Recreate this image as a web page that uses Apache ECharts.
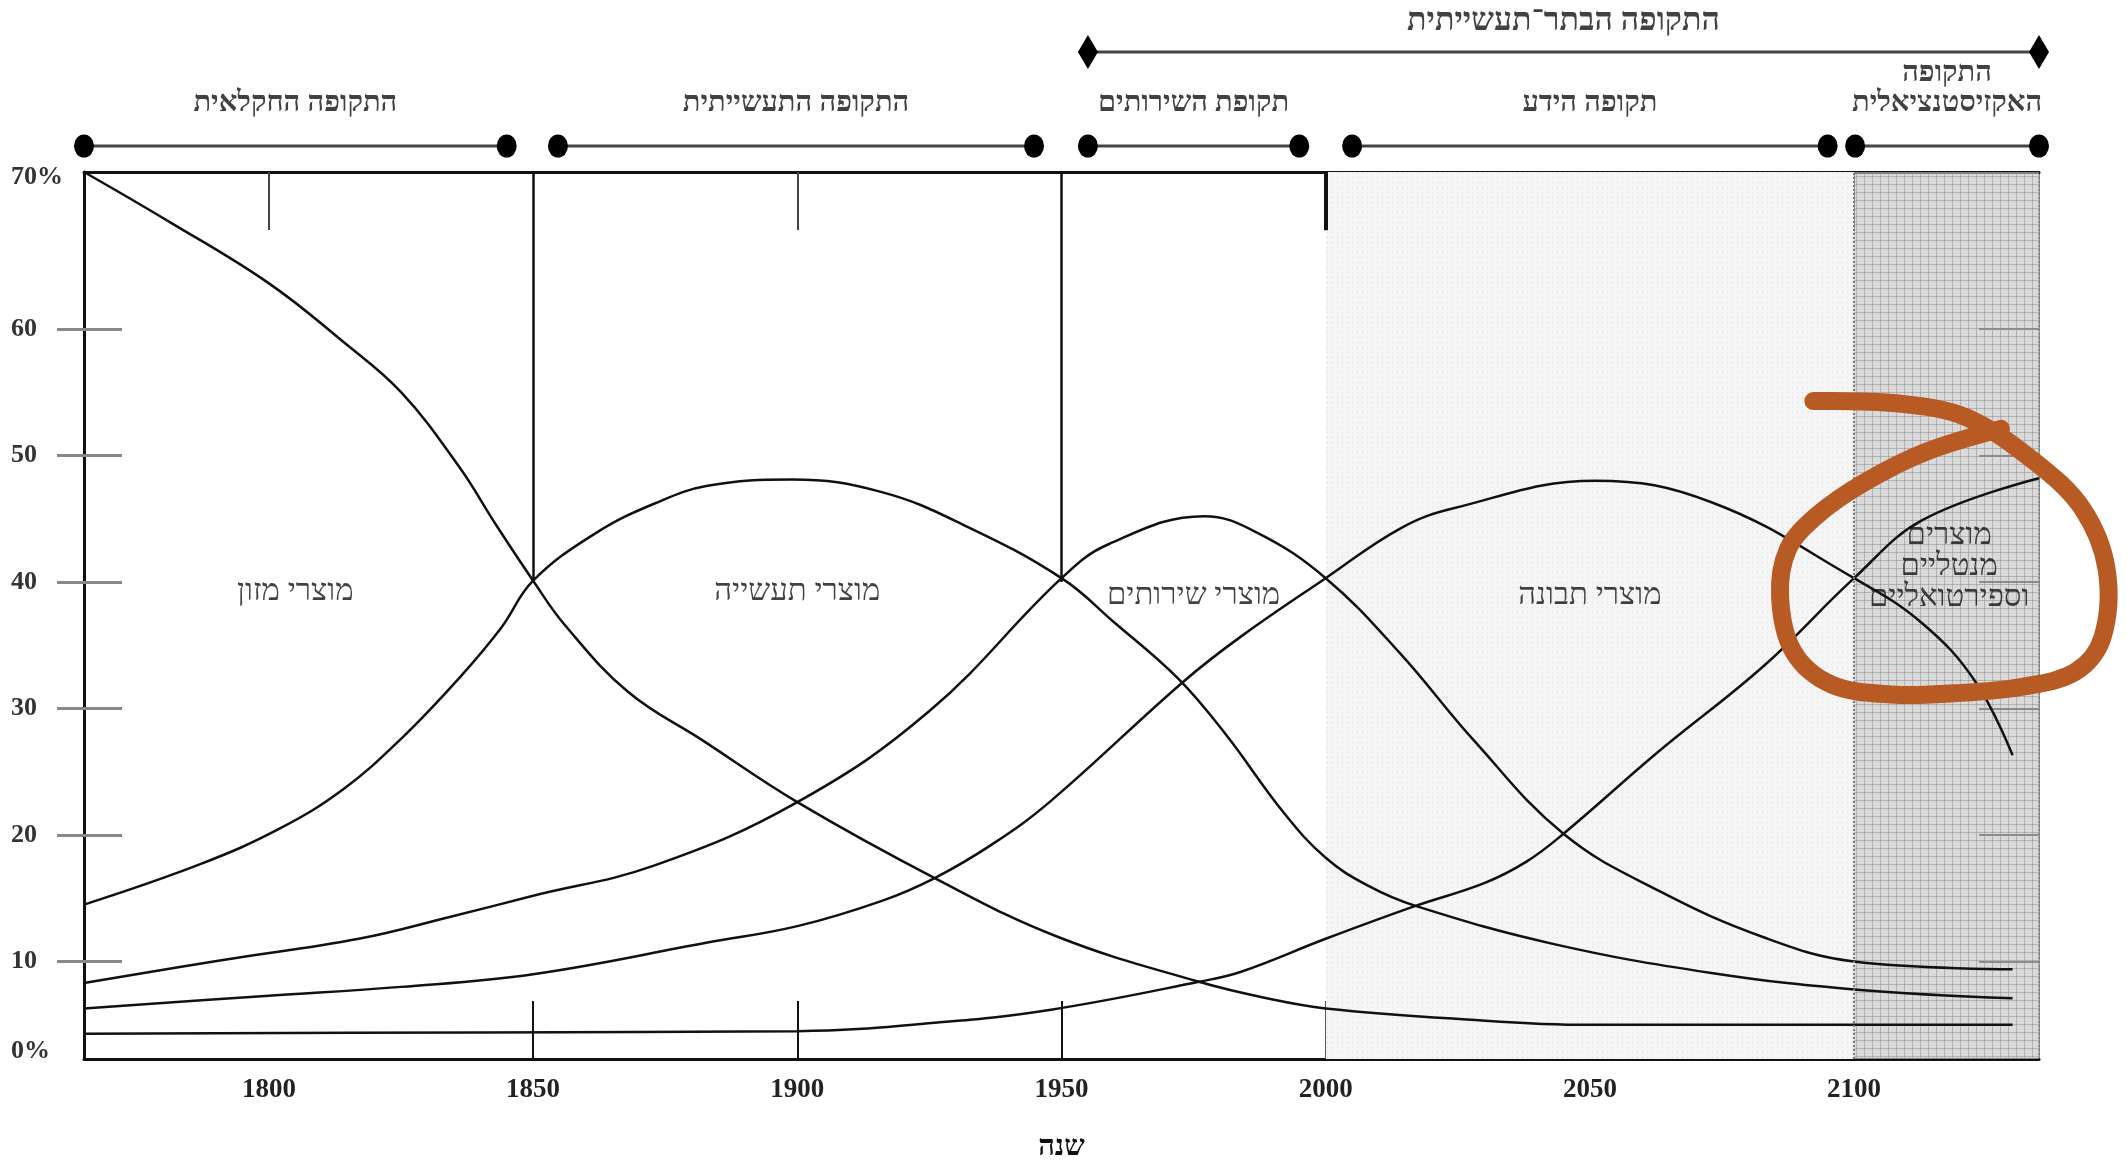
<!DOCTYPE html>
<html><head><meta charset="utf-8">
<script src="https://cdn.jsdelivr.net/npm/echarts@6/dist/echarts.min.js"></script>
<style>html,body{margin:0;padding:0;background:#fff}#c{width:2127px;height:1160px}</style>
</head><body><div id="c"></div>
<script>
// ---------- axes ----------
const X_MIN = 1765, X_MAX = 2135;
const Y_MIN = 2.3, Y_MAX = 72.4;
const xLabelYears = [1800, 1850, 1900, 1950, 2000, 2050, 2100];
const xBottomTickYears = [1850, 1900, 1950, 2000, 2050];
const xTopTickYears = [1800, 1900, 2000, 2100];
const yTickValues = [10, 20, 30, 40, 50, 60];
const yLabelValues = [Y_MIN, 10, 20, 30, 40, 50, 60, Y_MAX];
const yLabelTexts = ['0%', '10', '20', '30', '40', '50', '60', '70%'];
const xAxisTitle = 'שנה';

// ---------- product curves ----------
const productNames = ['מוצרי מזון', 'מוצרי תעשייה', 'מוצרי שירותים', 'מוצרי תבונה', 'מוצרים מנטליים וספירטואליים'];

const foodYears = [1765, 1781, 1800, 1814, 1825, 1836, 1843, 1850, 1856, 1868, 1882, 1900, 1926, 1949, 1976, 1990, 2000, 2024, 2050, 2100, 2130];
const foodValues = [72.4, 68.5, 63.6, 59.0, 55.0, 49.1, 44.5, 40.1, 36.6, 31.3, 27.5, 22.6, 16.6, 12.0, 8.4, 7.0, 6.3, 5.5, 5.0, 5.0, 5.0];

const industryYears = [1765, 1787, 1802, 1814, 1825, 1836, 1844, 1850, 1862, 1873, 1883, 1899, 1916, 1932, 1950, 1960, 1972, 1981, 1992, 2000, 2008, 2017, 2043, 2073, 2100, 2130];
const industryValues = [14.5, 17.7, 20.5, 23.6, 27.6, 32.4, 36.4, 40.1, 43.9, 46.2, 47.6, 48.1, 47.1, 44.4, 40.3, 36.8, 32.4, 28.0, 21.8, 18.2, 16.0, 14.4, 11.4, 9.1, 7.8, 7.1];

const servicesYears = [1765, 1791, 1817, 1834, 1850, 1873, 1900, 1925, 1950, 1959, 1977, 1987, 2000, 2014, 2028, 2045, 2063, 2083, 2100, 2130];
const servicesValues = [8.3, 10.1, 11.8, 13.5, 15.2, 17.6, 22.6, 29.8, 40.3, 43.0, 45.2, 43.9, 40.3, 34.4, 27.5, 20.1, 15.6, 11.9, 10.0, 9.4];

const knowledgeYears = [1765, 1800, 1825, 1850, 1883, 1900, 1916, 1926, 1937, 1948, 1973, 1984, 2000, 2014, 2024, 2051, 2073, 2100, 2113, 2123, 2130];
const knowledgeValues = [6.3, 7.3, 8.0, 9.0, 11.5, 12.8, 14.8, 16.6, 19.3, 22.7, 32.1, 35.7, 40.3, 44.2, 45.8, 48.0, 46.3, 40.3, 36.7, 32.1, 26.3];

const spiritualYears = [1765, 1840, 1900, 1927, 1948, 1976, 1984, 2000, 2017, 2030, 2038, 2045, 2063, 2083, 2100, 2113, 2135];
const spiritualValues = [4.3, 4.4, 4.5, 5.2, 6.2, 8.4, 9.2, 11.8, 14.4, 16.2, 17.9, 20.1, 26.6, 33.4, 40.3, 44.9, 48.2];

// in-plot labels
const productLabelTexts = ['מוצרי מזון', 'מוצרי תעשייה', 'מוצרי שירותים', 'מוצרי תבונה', 'מוצרים\nמנטליים\nוספירטואליים'];
const productLabelYears = [1805, 1900, 1975, 2050, 2118];
const productLabelValues = [39.2, 39.2, 38.9, 38.9, 41.2];

// ---------- periods ----------
const periodNames = ['התקופה החקלאית', 'התקופה התעשייתית', 'תקופת השירותים', 'תקופה הידע', 'התקופה\nהאקזיסטנציאלית'];
const periodStart = [1765, 1854.7, 1955, 2005, 2100.2];
const periodEnd = [1845, 1944.8, 1995, 2095, 2135];
const eraName = 'התקופה הבתר־תעשייתית';
const eraStart = 1955, eraEnd = 2135;
const periodDividers = [1850, 1950];
const lightShade = [2000, 2100];
const darkShade = [2100, 2135];

// hand-drawn annotation ring (in data coordinates)
const ringYears = [2092.3, 2108.5, 2121.3, 2134.2, 2143.2, 2147.8, 2147, 2141.9, 2131.6, 2118.8, 2107.2, 2095.7, 2088.5, 2086, 2087.5, 2093.1, 2102.1, 2113.7, 2127.8];
const ringValues = [54.3, 54.1, 53.0, 49.5, 45.8, 41.0, 35.6, 32.9, 31.7, 31.2, 31.1, 31.9, 34.5, 38.8, 42.6, 45.3, 47.9, 50.3, 52.1];

// ---------- build ----------
const FONT = "'Liberation Serif', 'DejaVu Serif', serif";
const zip = (xs, ys) => xs.map((x, i) => [x, ys[i]]);
function pattern(w, h, bg, draw) {
  const c = document.createElement('canvas'); c.width = w; c.height = h;
  const g = c.getContext('2d'); g.fillStyle = bg; g.fillRect(0, 0, w, h); draw(g); return c;
}
const lightPat = pattern(5, 5, '#f5f5f5', g => { g.fillStyle = '#dcdcdc'; g.fillRect(2, 2, 1, 1); });
const darkPat = pattern(8, 8, 'rgba(195,195,195,0.62)', g => { g.fillStyle = 'rgba(140,140,140,0.5)'; g.fillRect(0, 0, 8, 1); g.fillRect(0, 0, 1, 8); });

const curves = [
  zip(foodYears, foodValues), zip(industryYears, industryValues), zip(servicesYears, servicesValues),
  zip(knowledgeYears, knowledgeValues), zip(spiritualYears, spiritualValues)
];

const series = [];
series.push({
  type: 'line', xAxisIndex: 0, yAxisIndex: 0, data: [], z: 1, silent: true,
  markArea: { silent: true, itemStyle: { color: { image: lightPat, repeat: 'repeat' } },
    data: [[{ xAxis: lightShade[0] }, { xAxis: lightShade[1] }]] }
});
series.push({
  type: 'line', xAxisIndex: 0, yAxisIndex: 0, data: [], z: 2, silent: true,
  markLine: { silent: true, symbol: ['none', 'none'], label: { show: false },
    lineStyle: { color: '#111', width: 2.5, type: 'solid' },
    data: periodDividers.map(x => [{ coord: [x, Y_MAX] }, { coord: [x, 40] }])
      .concat([[{ coord: [lightShade[0], Y_MAX], lineStyle: { width: 4 } }, { coord: [lightShade[0], Y_MAX - 4.6] }]]) }
});
curves.forEach((d, i) => series.push({
  name: productNames[i], type: 'line', xAxisIndex: 0, yAxisIndex: 0, data: d, z: 2,
  smooth: 0.4, showSymbol: false, silent: true,
  lineStyle: { color: '#111', width: 2.5 }
}));
series.push({
  type: 'line', xAxisIndex: 0, yAxisIndex: 0, data: [], z: 3, silent: true,
  markArea: { silent: true, itemStyle: { color: { image: darkPat, repeat: 'repeat' } },
    data: [[{ xAxis: darkShade[0] }, { xAxis: darkShade[1] }]] },
  markLine: { silent: true, symbol: ['none', 'none'], label: { show: false },
    lineStyle: { color: '#777', width: 2, type: 'dotted' },
    data: [{ xAxis: darkShade[0] }] }
});
series.push({
  type: 'scatter', xAxisIndex: 0, yAxisIndex: 0, z: 4, symbolSize: 0, silent: true,
  data: productLabelTexts.map((t, i) => ({ name: t, value: [productLabelYears[i], productLabelValues[i]] })),
  label: { show: true, position: [0, 0], align: 'center', verticalAlign: 'middle', formatter: p => p.name,
    fontFamily: FONT, fontSize: 31, color: '#111', lineHeight: 31 }
});
// period rows (grid 1)
const ROW_DOTS = 146, ROW_LABEL = 119, ROW_ERA = 52, ROW_ERA_LABEL = 37;
periodNames.forEach((n, i) => series.push({
  type: 'line', xAxisIndex: 2, yAxisIndex: 3, silent: true, z: 2,
  data: [[periodStart[i], ROW_DOTS], [periodEnd[i], ROW_DOTS]],
  symbol: 'circle', symbolSize: [20, 23], itemStyle: { color: '#000' },
  lineStyle: { color: '#444', width: 3 }
}));
series.push({
  type: 'line', xAxisIndex: 2, yAxisIndex: 3, silent: true, z: 2,
  data: [[eraStart, ROW_ERA], [eraEnd, ROW_ERA]],
  symbol: 'diamond', symbolSize: [20, 34], itemStyle: { color: '#000' },
  lineStyle: { color: '#444', width: 3 }
});
series.push({
  type: 'scatter', xAxisIndex: 2, yAxisIndex: 3, symbolSize: 0, silent: true, z: 4,
  data: periodNames.map((n, i) => ({ name: n, value: [(periodStart[i] + periodEnd[i]) / 2, ROW_LABEL] }))
    .concat([{ name: eraName, value: [(eraStart + eraEnd) / 2, ROW_ERA_LABEL],
      label: { fontSize: 32 } }]),
  label: { show: true, position: 'top', distance: 0, formatter: p => p.name,
    fontFamily: FONT, fontWeight: 'bold', fontSize: 29, lineHeight: 30, color: '#111', align: 'center' }
});

const yLabelStyle = { fontFamily: FONT, fontWeight: 'bold', fontSize: 26, color: '#333' };
const option = {
  animation: false,
  backgroundColor: '#fff',
  grid: [
    { left: 84, right: 88, top: 172, bottom: 101, outerBoundsMode: 'none', containLabel: false },
    { left: 84, right: 88, top: 0, height: 172, outerBoundsMode: 'none', containLabel: false }
  ],
  xAxis: [
    { type: 'value', gridIndex: 0, min: X_MIN, max: X_MAX, position: 'bottom',
      name: xAxisTitle, nameLocation: 'middle', nameGap: 74,
      nameTextStyle: { fontFamily: FONT, fontWeight: 'bold', fontSize: 29, color: '#111' },
      axisLine: { show: true, lineStyle: { color: '#111', width: 3 } },
      axisTick: { show: true, inside: true, length: 58, customValues: xBottomTickYears, lineStyle: { color: '#111', width: 2 } },
      axisLabel: { show: true, customValues: xLabelYears, margin: 18, formatter: v => String(v),
        fontFamily: FONT, fontWeight: 'bold', fontSize: 27, color: '#222' },
      splitLine: { show: false } },
    { type: 'value', gridIndex: 0, min: X_MIN, max: X_MAX, position: 'top',
      axisLine: { show: true, lineStyle: { color: '#111', width: 3 } },
      axisTick: { show: true, inside: true, length: 58, customValues: xTopTickYears, lineStyle: { color: '#444', width: 2 } },
      axisLabel: { show: false }, splitLine: { show: false } },
    { type: 'value', gridIndex: 1, min: X_MIN, max: X_MAX, show: false }
  ],
  yAxis: [
    { type: 'value', gridIndex: 0, min: Y_MIN, max: Y_MAX, position: 'left',
      axisLine: { show: true, lineStyle: { color: '#111', width: 3 } },
      axisTick: { show: true, inside: false, length: 27, customValues: yTickValues, lineStyle: { color: '#888', width: 3 } },
      axisLabel: { show: true, customValues: yLabelValues, align: 'left', margin: 73,
        formatter: v => {
          const i = yLabelValues.findIndex(u => Math.abs(u - v) < 1e-6);
          if (i < 0) return '';
          if (i === 0) return '{bot|' + yLabelTexts[i] + '}';
          if (i === yLabelValues.length - 1) return '{top|' + yLabelTexts[i] + '}';
          return yLabelTexts[i];
        },
        ...yLabelStyle,
        rich: {
          bot: Object.assign({ padding: [0, 0, 16, 0] }, yLabelStyle),
          top: Object.assign({ padding: [10, 0, 0, 0] }, yLabelStyle)
        } },
      splitLine: { show: false } },
    { type: 'value', gridIndex: 0, min: Y_MIN, max: Y_MAX, position: 'left',
      axisLine: { show: false },
      axisTick: { show: true, inside: true, length: 38, customValues: yTickValues, lineStyle: { color: '#888', width: 3 } },
      axisLabel: { show: false }, splitLine: { show: false } },
    { type: 'value', gridIndex: 0, min: Y_MIN, max: Y_MAX, position: 'right',
      axisLine: { show: true, lineStyle: { color: '#777', width: 2, type: 'dotted' } },
      axisTick: { show: true, inside: true, length: 60, customValues: yTickValues, lineStyle: { color: '#333', width: 2 } },
      axisLabel: { show: false }, splitLine: { show: false } },
    { type: 'value', gridIndex: 1, min: 0, max: 172, inverse: true, show: false }
  ],
  series: series
};

const chart = echarts.init(document.getElementById('c'));
chart.setOption(option);

const ringPts = ringYears.map((x, i) => chart.convertToPixel({ xAxisIndex: 0, yAxisIndex: 0 }, [x, ringValues[i]]));
chart.setOption({
  graphic: [{
    type: 'polyline', z: 100, silent: true,
    shape: { points: ringPts, smooth: 0.35 },
    style: { stroke: '#b85a24', lineWidth: 18, fill: null, lineCap: 'round', lineJoin: 'round' }
  }]
});
</script>
</body></html>
